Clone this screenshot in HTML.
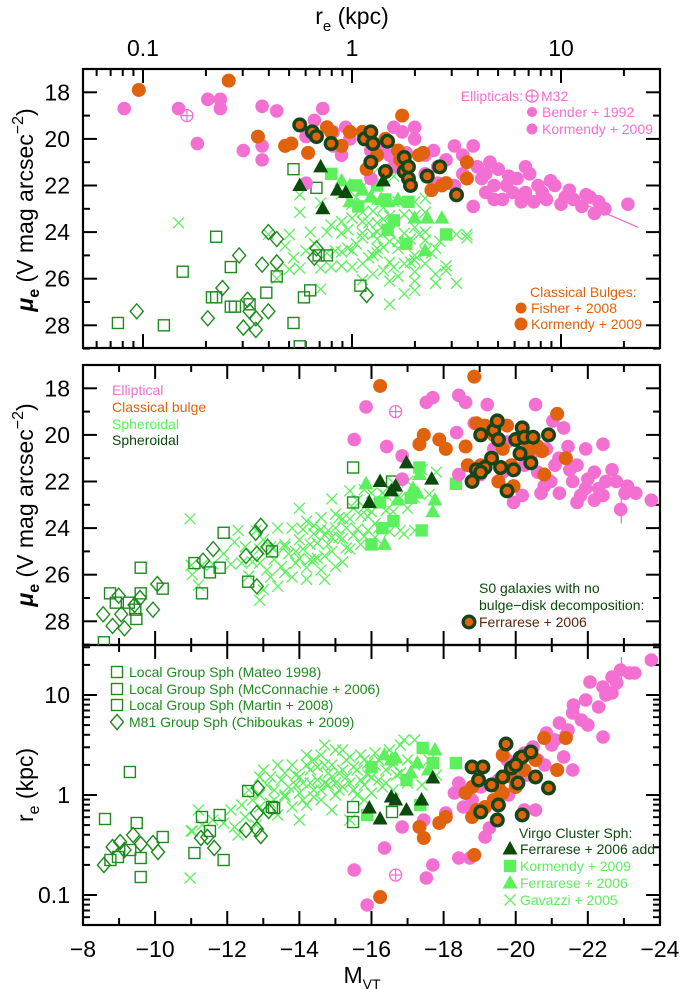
<!DOCTYPE html>
<html><head><meta charset="utf-8">
<style>
html,body{margin:0;padding:0;background:#fff;}
svg{display:block;}
.tl{font-family:"Liberation Sans",sans-serif;font-size:23px;fill:#000;}
.lg{font-family:"Liberation Sans Narrow","Liberation Sans",sans-serif;font-size:14px;}
</style></head>
<body>
<svg id="chart" width="686" height="989" viewBox="0 0 686 989" xmlns="http://www.w3.org/2000/svg">
<g id="axes"></g>
<g id="marks"></g>
<g id="legends"></g>
</svg>
<script>
// ---------- Gavazzi 2005 (shared by all panels): M, log re, mu_e ----------
const gavM = [-11.0,-11.3,-11.6,-11.9,-12.1,-12.2,-12.4,-12.5,-12.7,-12.8,-12.9,-13.0,-13.1,-13.2,-13.3,-13.4,-13.5,-13.6,-13.7,-13.8,-13.9,-14.0,-14.1,-14.2,-14.3,-14.4,-14.5,-14.6,-14.7,-14.8,-14.9,-15.0,-15.1,-15.2,-15.3,-15.4,-15.5,-15.6,-15.7,-15.8,-15.9,-16.0,-16.1,-16.2,-16.3,-16.4,-16.5,-16.6,-16.7,-16.8,-17.0,-17.2,-17.4,-17.6,-17.8,-12.3,-13.0,-13.6,-14.0,-14.4,-14.9,-15.2,-12.6,-14.2,-15.8,-13.4,-16.9,-11.2,-15.4,-14.7,-10.97,-12.9,-11.03,-17.2,
  -13.6,-13.9,-14.1,-14.3,-14.5,-14.6,-14.8,-14.9,-15.0,-15.1,-15.3,-15.5,-15.6,-15.7,-15.9,-16.0,-16.2,-16.4,-16.6,-16.8,-14.0,-14.2,-14.4,-14.7,-15.2,-15.4,-13.2,-13.8,-12.9,-13.3,-15.8,-16.1,-17.0,-14.6,-15.0];
const gavR = [-0.36,-0.30,-0.25,-0.28,-0.15,-0.32,-0.10,-0.22,-0.05,-0.30,0.00,-0.18,0.10,-0.08,0.05,-0.20,0.15,-0.02,0.08,-0.12,0.20,0.02,0.12,-0.10,0.25,0.05,0.15,-0.05,0.30,0.10,0.18,0.00,0.22,0.08,0.35,0.12,0.05,0.25,0.40,0.10,0.20,0.02,0.30,0.15,0.08,0.25,0.45,0.05,0.20,0.50,0.12,0.30,0.10,0.35,0.20,-0.40,0.25,0.22,-0.25,0.35,-0.15,0.45,0.05,0.40,0.35,0.30,0.55,-0.15,-0.25,0.50,-0.83,0.18,-0.36,0.55,
  0.00,0.10,-0.05,0.12,0.28,0.05,0.22,0.30,0.12,0.05,0.18,0.28,0.00,0.15,0.32,0.18,0.35,0.12,0.30,0.22,0.18,0.30,-0.02,0.12,0.25,0.38,0.18,0.30,-0.12,-0.05,-0.05,0.42,0.35,0.40,0.45];
const gavMu = [25.6,25.6,25.55,25.1,25.55,24.6,25.5,24.8,25.45,24.1,25.5,24.5,25.8,24.8,25.35,24.0,25.65,24.7,25.1,24.0,25.5,24.5,24.9,23.7,25.35,24.25,24.65,23.55,25.2,24.1,24.4,23.4,24.4,23.6,24.85,23.6,23.15,24.05,24.7,23.1,23.5,22.5,23.8,22.95,22.5,23.25,24.15,22.05,22.7,24.1,22.0,22.7,21.5,22.55,21.6,24.1,26.65,25.9,23.15,25.35,22.75,25.45,26.05,26.2,24.35,26.5,24.25,26.45,22.4,26.2,23.6,27.1,26.0,24.1,
  24.8,25.0,24.05,24.7,25.3,24.05,24.7,25.0,24.0,23.55,24.0,24.3,22.8,23.45,24.1,23.3,24.0,22.6,23.3,22.7,25.3,25.7,23.9,24.3,24.45,24.9,26.1,26.1,24.9,24.85,22.35,24.4,23.15,25.8,25.65];

// ---------- Panel 1: [log re, mu_e] ----------
const p1Ell = [[-1.09,18.7],[-0.83,18.7],[-0.74,20.2],[-0.69,18.3],[-0.63,18.3],[-0.63,18.7],[-0.52,20.5],[-0.43,18.6],[-0.43,20.3],[-0.43,20.9],[-0.36,18.8],[-0.14,18.7],[-0.18,19.2],[-0.22,19.9],[-0.09,19.7],[-0.09,20.3],[-0.05,20.7],[-0.03,19.5],[-0.01,20.0],[0.05,19.7],[0.09,20.5],[0.14,20.3],[0.18,20.7],[0.20,19.5],[0.24,19.7],[0.26,20.6],[0.30,20.0],[0.35,20.7],[0.39,20.5],[0.41,21.2],[0.45,20.9],[0.49,20.3],[0.53,20.7],[0.58,20.3],[0.60,21.2],[0.62,21.7],[0.64,22.3],[0.58,22.9],[0.68,22.0],[0.70,21.3],[0.74,22.0],[0.79,21.7],[0.83,22.3],[0.85,21.5],[0.89,22.0],[0.93,22.6],[0.97,22.0],[1.02,22.5],[1.04,22.2],[1.10,22.9],[1.14,22.5],[1.18,22.7],[1.21,23.0],[1.32,22.8],[0.41,21.9],[0.49,22.0],[0.20,21.2],[0.09,21.7],[-0.22,21.9],[0.53,21.5],[0.72,22.6],[0.87,22.7],[0.77,22.3],[0.64,21.5],[0.66,21.0],[0.83,21.2],[0.91,22.3],[1.06,22.6],[1.16,23.2],[0.30,19.5],[0.35,21.5],[0.68,22.6],[0.81,22.7],[0.75,21.6],[0.95,21.8],[1.00,22.8],[1.12,22.4]];
const p1M32 = [[-0.79,19.0]];
const p1Bul = [[-1.02,17.9],[-0.59,17.5],[-0.45,19.9],[-0.32,20.3],[-0.29,20.2],[-0.21,20.6],[-0.12,19.5],[-0.10,19.7],[-0.01,19.7],[0.05,19.7],[0.07,21.3],[0.12,20.7],[0.22,20.5],[0.23,20.9],[0.24,19.0],[0.32,20.7],[0.34,20.6],[0.38,22.2],[0.43,22.0],[0.45,21.9],[0.55,21.0],[0.55,21.7],[0.16,20.0],[-0.05,20.3]];
const p1S0 = [[-0.25,19.4],[-0.19,19.7],[-0.17,19.9],[-0.10,20.2],[0.06,20.0],[0.09,19.7],[0.10,20.2],[0.09,21.0],[0.17,20.1],[0.16,21.4],[0.25,20.8],[0.25,21.4],[0.27,21.2],[0.27,21.7],[0.28,22.0],[0.36,21.6],[0.42,21.2],[0.50,22.4]];
const p1DTri = [[-0.25,22.0],[-0.15,21.2],[-0.14,23.0],[-0.07,22.2],[-0.03,22.3],[0.15,21.8]];
const p1LTri = [[-0.05,21.8],[-0.01,22.0],[0.05,22.2],[0.09,22.5],[0.14,22.6],[0.17,22.7],[0.22,22.6],[0.30,23.4],[0.36,23.4],[0.43,23.4],[0.35,24.8],[-0.01,22.7]];
const p1LSq = [[-0.10,21.5],[0.02,22.0],[0.12,22.0],[0.16,22.6],[0.17,23.9],[0.20,23.5],[0.27,22.7],[0.45,24.1],[0.03,22.9],[0.26,24.5]];
const p1OSq = [[-1.12,27.9],[-0.90,28.0],[-0.81,25.7],[-0.65,24.2],[-0.67,26.8],[-0.65,26.8],[-0.58,25.5],[-0.58,27.2],[-0.56,27.2],[-0.49,27.1],[-0.41,26.6],[-0.36,25.9],[-0.28,27.9],[-0.25,28.9],[-0.23,26.8],[-0.20,26.5],[-0.17,22.1],[-0.12,25.0],[-0.16,25.0],[0.04,26.3],[-0.28,21.3]];
const p1Dia = [[-1.03,27.4],[-0.69,27.7],[-0.62,26.4],[-0.54,25.0],[-0.52,28.1],[-0.50,26.9],[-0.49,27.4],[-0.46,27.7],[-0.46,28.2],[-0.40,27.4],[-0.43,25.4],[-0.40,24.0],[-0.36,24.3],[-0.36,25.3],[-0.17,24.7],[-0.18,25.1],[0.07,26.7]];
const p1EllLine = [[1.06,22.6],[1.37,23.8]];

// ---------- Panel 2: [M_VT, mu_e] ----------
const p2Ell = [[-15.85,18.8],[-15.52,20.2],[-16.42,20.5],[-16.85,20.9],[-16.85,21.9],[-17.52,18.6],[-17.70,18.4],[-18.42,18.3],[-18.61,18.6],[-18.36,19.9],[-18.85,19.5],[-19.21,18.7],[-19.39,20.6],[-19.03,21.7],[-18.42,21.7],[-19.94,22.9],[-20.24,21.3],[-20.55,18.7],[-20.79,22.2],[-21.03,19.4],[-21.33,19.7],[-21.45,20.5],[-21.70,21.3],[-21.94,20.6],[-22.18,21.6],[-22.42,20.4],[-22.67,21.5],[-22.79,22.0],[-23.03,22.5],[-23.33,22.5],[-23.76,22.8],[-22.91,23.2],[-22.42,22.6],[-21.94,22.3],[-21.58,22.0],[-21.21,22.5],[-20.97,22.0],[-20.61,21.6],[-20.42,20.9],[-21.70,22.9],[-22.18,22.8],[-19.64,21.6],[-20.18,22.6],[-21.09,21.3],[-20.85,20.6],[-19.76,20.3],[-21.5,21.5],[-22.0,21.9],[-22.5,22.0],[-21.2,21.0],[-22.3,22.3],[-21.8,22.6],[-20.7,22.5],[-23.1,22.2]];
const p2M32 = [[-16.67,19.0]];
const p2Bul = [[-16.24,17.9],[-18.85,17.5],[-21.15,19.1],[-17.45,20.0],[-17.33,20.4],[-17.88,20.2],[-18.06,20.6],[-18.61,20.5],[-18.67,21.3],[-18.91,19.5],[-19.15,19.6],[-19.39,20.0],[-19.64,20.6],[-19.76,19.6],[-19.88,21.3],[-19.52,22.0],[-19.94,22.2],[-20.36,20.7],[-20.61,20.5],[-20.73,20.7],[-20.79,21.7],[-21.39,21.0],[-19.03,21.3],[-20.24,20.2]];
const p2S0 = [[-19.03,20.0],[-19.39,19.8],[-19.49,19.4],[-19.52,20.2],[-19.33,21.0],[-19.15,21.4],[-18.91,21.5],[-18.79,22.0],[-19.58,21.4],[-19.76,22.4],[-19.94,21.5],[-20.00,20.2],[-20.12,20.8],[-20.18,19.7],[-20.24,20.1],[-20.42,21.2],[-20.48,20.1],[-20.91,20.0],[-19.03,21.6]];
const p2DTri = [[-15.94,22.9],[-16.24,22.0],[-16.55,22.4],[-16.67,22.2],[-16.97,21.2],[-17.67,21.9]];
const p2LTri = [[-15.85,22.1],[-16.36,24.7],[-17.27,22.5],[-17.70,23.3],[-17.33,21.7],[-17.15,22.3],[-17.76,22.8],[-16.73,22.8]];
const p2LSq = [[-16.0,24.7],[-16.30,24.0],[-17.39,24.1],[-18.34,22.1],[-17.33,21.4],[-16.61,23.7],[-17.09,22.7],[-16.24,22.9]];
const p2OSq = [[-8.58,28.9],[-8.75,26.8],[-8.91,27.2],[-9.27,27.2],[-9.45,27.5],[-9.48,27.9],[-9.60,25.7],[-9.60,26.8],[-10.21,26.6],[-11.09,25.5],[-11.30,26.8],[-11.52,25.9],[-11.79,25.7],[-11.90,24.2],[-12.58,26.3],[-13.24,25.0],[-15.49,21.4],[-15.49,22.9],[-16.57,22.0]];
const p2Dia = [[-8.56,27.7],[-8.82,28.2],[-8.99,26.9],[-9.06,27.7],[-9.15,28.3],[-9.43,27.3],[-9.58,27.0],[-9.94,27.5],[-10.06,26.4],[-11.33,25.4],[-11.61,24.9],[-12.52,25.2],[-12.79,24.2],[-12.93,23.9],[-12.82,25.1],[-13.12,24.8],[-12.82,26.5]];
const p2EllLine = [[-22.93,22.7],[-22.93,23.8]];

// ---------- Panel 3: [M_VT, log re] ----------
const p3Ell = [[-23.76,1.35],[-22.91,1.25],[-23.15,1.22],[-22.67,1.18],[-22.06,1.13],[-22.42,1.08],[-22.67,1.02],[-21.94,0.95],[-22.30,0.88],[-21.58,0.82],[-21.82,0.75],[-21.21,0.72],[-21.45,0.65],[-20.85,0.62],[-21.09,0.55],[-20.48,0.48],[-22.42,0.58],[-21.33,0.38],[-20.24,0.42],[-20.61,0.35],[-19.76,0.35],[-21.58,0.25],[-20.12,0.25],[-19.52,0.15],[-19.03,0.08],[-18.42,0.12],[-18.30,0.02],[-18.55,-0.12],[-18.06,-0.18],[-20.24,-0.15],[-20.55,-0.15],[-18.79,-0.05],[-17.45,-0.25],[-16.85,-0.32],[-16.36,-0.53],[-18.42,-0.63],[-18.73,-0.63],[-17.70,-0.70],[-17.52,-0.83],[-15.52,-0.75],[-15.88,-1.10],[-19.27,-0.33],[-19.15,-0.42],[-21.6,0.9],[-22.0,0.7],[-21.0,0.5],[-20.8,0.3],[-22.5,1.0],[-20.3,0.2],[-19.8,0.0],[-21.4,0.6],[-22.8,1.12],[-23.3,1.22]];
const p3M32 = [[-16.67,-0.80]];
const p3Bul = [[-16.24,-1.02],[-20.79,0.57],[-21.39,0.57],[-21.15,0.25],[-19.64,0.40],[-19.88,0.18],[-20.00,0.08],[-19.52,0.08],[-19.64,0.02],[-19.39,-0.05],[-19.15,-0.12],[-18.91,-0.15],[-18.79,-0.22],[-18.61,0.02],[-18.79,0.08],[-18.06,-0.22],[-17.88,-0.28],[-17.33,-0.32],[-17.45,-0.43],[-18.85,-0.60],[-20.24,0.25],[-20.55,0.35]];
const p3S0 = [[-18.79,0.28],[-19.09,0.28],[-18.97,0.15],[-19.73,0.51],[-19.33,0.10],[-19.64,0.18],[-19.88,0.27],[-20.06,0.12],[-20.12,0.37],[-20.18,0.38],[-20.42,0.43],[-20.55,0.18],[-20.91,0.07],[-19.52,-0.10],[-19.03,-0.17],[-19.49,-0.25],[-20.18,-0.20],[-20.00,0.30]];
const p3DTri = [[-15.94,-0.13],[-16.24,-0.24],[-16.55,-0.02],[-16.67,-0.05],[-16.97,-0.15],[-17.39,-0.05],[-17.70,0.17]];
const p3LTri = [[-16.36,0.40],[-16.55,0.35],[-17.27,0.32],[-17.76,0.45],[-16.67,0.37],[-17.09,0.22],[-17.58,0.25]];
const p3LSq = [[-16.0,0.28],[-17.42,0.47],[-18.34,0.32],[-17.35,-0.10],[-15.88,-0.20],[-17.70,0.32],[-16.97,0.15]];
const p3OSq = [[-8.61,-0.24],[-9.30,0.23],[-9.49,-0.28],[-9.60,-0.63],[-9.60,-0.82],[-9.31,-0.55],[-8.97,-0.62],[-8.76,-0.65],[-10.21,-0.42],[-11.09,-0.58],[-11.30,-0.22],[-11.52,-0.36],[-11.79,-0.20],[-11.90,-0.65],[-12.58,0.04],[-13.24,-0.12],[-13.30,-0.13],[-15.49,-0.12],[-15.49,-0.27],[-16.57,-0.17]];
const p3Dia = [[-8.58,-0.70],[-8.82,-0.52],[-9.03,-0.47],[-9.15,-0.55],[-9.39,-0.40],[-9.60,-0.49],[-9.94,-0.48],[-10.08,-0.57],[-11.27,-0.43],[-11.45,-0.42],[-11.64,-0.53],[-12.52,-0.35],[-12.82,-0.18],[-12.82,-0.34],[-12.93,-0.41],[-12.85,0.07],[-13.15,-0.16]];
const p3EllLine = [[-22.93,1.15],[-22.93,1.38]];

// ---------- Tick labels ----------
const mTicks = [-8,-10,-12,-14,-16,-18,-20,-22,-24];
const muTicks = [18,20,22,24,26,28];
const reTopTicks = [0.1,1,10];
const reLeftTicks = [10,1,0.1];
const reLeftLabels = ["10","1","0.1"];

// ---------- geometry ----------
const NS = "http://www.w3.org/2000/svg";
const X0 = 83, X1 = 660;
const P1T = 69, P1B = 348, P2T = 365, P2B = 645, P3T = 645, P3B = 925;
const C = {pink:"#f46fd2", orange:"#e0620c", light:"#5cf05c", dark:"#0c4a0c", open:"#1f8a1f", s0ring:"#17451a"};
function xM(m){ return X0 + (-8 - m) * 36.06; }
function xR(lr){ return 352 + 209 * lr; }
function yMu(mu, top){ return top + (mu - 17) * 23.3; }
function yR(lr){ return 795 - 100 * lr; }

const axes = document.getElementById('axes');
const marks = document.getElementById('marks');
const legends = document.getElementById('legends');

function mk(parent, tag, attrs){
  const el = document.createElementNS(NS, tag);
  for (const k in attrs) el.setAttribute(k, attrs[k]);
  parent.appendChild(el);
  return el;
}
function line(parent, x1, y1, x2, y2, stroke, sw, name){
  const el = mk(parent, 'line', {x1:x1, y1:y1, x2:x2, y2:y2, stroke:stroke, 'stroke-width':sw});
  
  
  return el;
}
function text(parent, x, y, s, cls, anchor, fill, name){
  const el = mk(parent, 'text', {x:x, y:y, class:cls, 'text-anchor':anchor});
  if (fill) el.setAttribute('fill', fill);
  el.textContent = s;
  
  
  return el;
}

// ---------- markers ----------
function dot(g, x, y, color, r, name){
  const el = mk(g, 'circle', {cx:x, cy:y, r:r, fill:color});
  
  
}
function ring(g, x, y, name){
  const el = mk(g, 'circle', {cx:x, cy:y, r:5.8, fill:C.orange, stroke:C.s0ring, 'stroke-width':3.4});
  
  
}
function tri(g, x, y, color, name){
  const el = mk(g, 'polygon', {points:`${x},${y-8} ${x-7.5},${y+5.5} ${x+7.5},${y+5.5}`, fill:color});
  
  
}
function sq(g, x, y, color, filled, name){
  const el = mk(g, 'rect', {x:x-5.5, y:y-5.5, width:11, height:11, fill: filled ? color : 'none', stroke:color, 'stroke-width':1.4});
  
  
}
function dia(g, x, y, color, name){
  const el = mk(g, 'polygon', {points:`${x},${y-7.5} ${x+6.5},${y} ${x},${y+7.5} ${x-6.5},${y}`, fill:'none', stroke:color, 'stroke-width':1.4});
  
  
}
function cross(g, x, y, color, name){
  const el = mk(g, 'path', {d:`M${x-5.5},${y-5.5}L${x+5.5},${y+5.5}M${x-5.5},${y+5.5}L${x+5.5},${y-5.5}`, stroke:color, 'stroke-width':1.3, fill:'none'});
  
  
}
function m32(g, x, y, name){
  const el = mk(g, 'path', {d:`M${x-6},${y}L${x+6},${y}M${x},${y-6}L${x},${y+6}`, stroke:C.pink, 'stroke-width':1.2, fill:'none'});
  
  
  const c = mk(g, 'circle', {cx:x, cy:y, r:6, fill:'none', stroke:C.pink, 'stroke-width':1.3});
  
  
}

// ---------- panels ----------
function drawPanel(id, fx, fy, top, bot, D){
  const g = mk(marks, 'g', {'clip-path':`url(#clip-${id})`});
  
  
  const cp = mk(mk(marks, 'defs', {}), 'clipPath', {id:'clip-' + id});
  mk(cp, 'rect', {x:X0, y:top, width:X1 - X0, height:bot - top});
  D.gx.forEach((v, i) => cross(g, fx(v), fy(D.gy[i]), C.light, 'gavazzi-cross'));
  D.osq.forEach(p => sq(g, fx(p[0]), fy(p[1]), C.open, false, 'local-group-sph'));
  D.dia.forEach(p => dia(g, fx(p[0]), fy(p[1]), C.open, 'm81-group-sph'));
  D.lsq.forEach(p => sq(g, fx(p[0]), fy(p[1]), C.light, true, 'kormendy-sph'));
  D.ltri.forEach(p => tri(g, fx(p[0]), fy(p[1]), C.light, 'ferrarese-sph'));
  D.ell.forEach(p => dot(g, fx(p[0]), fy(p[1]), C.pink, 6.8, 'elliptical'));
  const el = mk(g, 'line', {x1:fx(D.eline[0][0]), y1:fy(D.eline[0][1]), x2:fx(D.eline[1][0]), y2:fy(D.eline[1][1]), stroke:C.pink, 'stroke-width':1.3});
  
  
  D.m32.forEach(p => m32(g, fx(p[0]), fy(p[1]), 'm32'));
  D.bul.forEach(p => dot(g, fx(p[0]), fy(p[1]), C.orange, 7, 'classical-bulge'));
  D.s0.forEach(p => ring(g, fx(p[0]), fy(p[1]), 's0-galaxy'));
  D.dtri.forEach(p => tri(g, fx(p[0]), fy(p[1]), C.dark, 'ferrarese-add-sph'));
}
drawPanel('panel-1', xR, mu => yMu(mu, P1T), P1T, P1B,
  {gx:gavR, gy:gavMu, osq:p1OSq, dia:p1Dia, lsq:p1LSq, ltri:p1LTri, ell:p1Ell, eline:p1EllLine, m32:p1M32, bul:p1Bul, s0:p1S0, dtri:p1DTri});
drawPanel('panel-2', xM, mu => yMu(mu, P2T), P2T, P2B,
  {gx:gavM, gy:gavMu, osq:p2OSq, dia:p2Dia, lsq:p2LSq, ltri:p2LTri, ell:p2Ell, eline:p2EllLine, m32:p2M32, bul:p2Bul, s0:p2S0, dtri:p2DTri});
drawPanel('panel-3', xM, yR, P3T, P3B,
  {gx:gavM, gy:gavR, osq:p3OSq, dia:p3Dia, lsq:p3LSq, ltri:p3LTri, ell:p3Ell, eline:p3EllLine, m32:p3M32, bul:p3Bul, s0:p3S0, dtri:p3DTri});

// ---------- frames ----------
[[P1T,P1B,'panel-1-frame'],[P2T,P2B,'panel-2-frame'],[P3T,P3B,'panel-3-frame']].forEach(f => {
  const r = mk(axes, 'rect', {x:X0, y:f[0], width:X1 - X0, height:f[1] - f[0], fill:'none', stroke:'#000', 'stroke-width':2.2});
  
  
});

// M ticks (panels 2,3)
for (let m = -8; m >= -24; m--) {
  const x = xM(m), len = (m % 2 === 0) ? 14 : 7;
  line(axes, x, P2T, x, P2T + len, '#000', 2, 'm-tick');
  line(axes, x, P2B, x, P2B - len, '#000', 2, 'm-tick');
  line(axes, x, P3T, x, P3T + len, '#000', 2, 'm-tick');
  line(axes, x, P3B, x, P3B - len, '#000', 2, 'm-tick');
}
mTicks.forEach(m => text(axes, xM(m), 957, '\u2212' + Math.abs(m), 'tl', 'middle', null, 'x-tick-label'));

// mu ticks (panels 1,2)
[P1T, P2T].forEach(top => {
  for (let mu = 17; mu <= 29; mu++) {
    const y = yMu(mu, top), len = (mu % 2 === 0) ? 14 : 7;
    line(axes, X0, y, X0 + len, y, '#000', 2, 'mu-tick');
    line(axes, X1, y, X1 - len, y, '#000', 2, 'mu-tick');
  }
  muTicks.forEach(mu => text(axes, 70, yMu(mu, top) + 8, String(mu), 'tl', 'end', null, 'y-tick-label'));
});

// log re ticks panel 1 (x) and panel 3 (y)
for (let d = -2; d <= 1; d++) {
  for (let k = 1; k <= 9; k++) {
    const lr = d + Math.log10(k), len = k === 1 ? 14 : 7;
    const x = xR(lr);
    if (x > X0 + 1 && x < X1 - 1) {
      line(axes, x, P1T, x, P1T + len, '#000', 2, 're-tick');
      line(axes, x, P1B, x, P1B - len, '#000', 2, 're-tick');
    }
    const y = yR(lr);
    if (y > P3T + 1 && y < P3B - 1) {
      line(axes, X0, y, X0 + len, y, '#000', 2, 're-tick');
      line(axes, X1, y, X1 - len, y, '#000', 2, 're-tick');
    }
  }
}
reTopTicks.forEach(v => text(axes, xR(Math.log10(v)), 56, String(v), 'tl', 'middle', null, 'top-x-tick-label'));
reLeftTicks.forEach((v, i) => text(axes, 70, yR(Math.log10(v)) + 8, reLeftLabels[i], 'tl', 'end', null, 'y-tick-label'));

// axis titles
(function(){
  const t = mk(axes, 'text', {x:352, y:24, 'text-anchor':'middle', class:'tl'});
  t.innerHTML = 'r<tspan font-size="15" dy="7">e</tspan><tspan dy="-7"> (kpc)</tspan>';
  
  
  const b = mk(axes, 'text', {x:362, y:983, 'text-anchor':'middle', class:'tl', 'font-size':'21'});
  b.innerHTML = 'M<tspan font-size="14" dy="6">VT</tspan>';
  
  
  [[210, 'y-axis-title-mu-1'], [505, 'y-axis-title-mu-2']].forEach(a => {
    const y = mk(axes, 'text', {x:0, y:0, 'text-anchor':'middle', class:'tl', 'font-size':'25', transform:`translate(33,${a[0]}) rotate(-90)`});
    y.innerHTML = '<tspan font-weight="bold" font-style="italic">\u03bc</tspan><tspan font-size="16" dy="6" font-weight="bold">e</tspan><tspan dy="-6"> (V mag arcsec</tspan><tspan font-size="16" dy="-10">\u22122</tspan><tspan dy="10">)</tspan>';
    
    
  });
  const r = mk(axes, 'text', {x:0, y:0, 'text-anchor':'middle', class:'tl', 'font-size':'25', transform:'translate(33,785) rotate(-90)'});
  r.innerHTML = 'r<tspan font-size="16" dy="6">e</tspan><tspan dy="-6">  (kpc)</tspan>';
  
  
})();

// ---------- legends ----------
function lgText(x, y, s, color, name){ return text(legends, x, y + 5, s, 'lg', 'start', color, name); }
// panel 1 ellipticals
text(legends, 523, 101, 'Ellipticals:', 'lg', 'end', C.pink, 'legend-ellipticals-title');
m32(legends, 532, 96, 'legend-m32-symbol');
lgText(541, 96, 'M32', C.pink, 'legend-m32');
dot(legends, 532, 112, C.pink, 5, 'legend-bender-symbol');
lgText(542, 112, 'Bender + 1992', C.pink, 'legend-bender');
dot(legends, 532, 129, C.pink, 5.5, 'legend-kormendy-ell-symbol');
lgText(542, 129, 'Kormendy + 2009', C.pink, 'legend-kormendy-ell');
// panel 1 bulges
lgText(530, 292, 'Classical Bulges:', C.orange, 'legend-bulges-title');
dot(legends, 521, 308, C.orange, 5.5, 'legend-fisher-symbol');
lgText(531, 308, 'Fisher + 2008', C.orange, 'legend-fisher');
dot(legends, 521, 324, C.orange, 6.5, 'legend-kormendy-bul-symbol');
lgText(531, 324, 'Kormendy + 2009', C.orange, 'legend-kormendy-bul');
// panel 2 types
lgText(112, 390, 'Elliptical', C.pink, 'legend-type-elliptical');
lgText(112, 407, 'Classical bulge', C.orange, 'legend-type-bulge');
lgText(112, 424, 'Spheroidal', C.light, 'legend-type-spheroidal-light');
lgText(112, 440, 'Spheroidal', C.dark, 'legend-type-spheroidal-dark');
// panel 2 S0
lgText(479, 588, 'S0 galaxies with  no', C.dark, 'legend-s0-title');
lgText(479, 605, 'bulge\u2212disk decomposition:', C.dark, 'legend-s0-title-2');
ring(legends, 469, 622, 'legend-s0-symbol');
lgText(479, 622, 'Ferrarese + 2006', '#5a2508', 'legend-s0-ferrarese');
// panel 3 local group
sq(legends, 117, 672, C.open, false, 'legend-mateo-symbol');
lgText(129, 672, 'Local Group Sph (Mateo 1998)', C.open, 'legend-mateo');
sq(legends, 117, 689, C.open, false, 'legend-mcconnachie-symbol');
lgText(129, 689, 'Local Group Sph (McConnachie + 2006)', C.open, 'legend-mcconnachie');
sq(legends, 117, 705, C.open, false, 'legend-martin-symbol');
lgText(129, 705, 'Local Group Sph (Martin + 2008)', C.open, 'legend-martin');
dia(legends, 117, 722, C.open, 'legend-chiboukas-symbol');
lgText(129, 722, 'M81  Group Sph (Chiboukas + 2009)', C.open, 'legend-chiboukas');
// panel 3 virgo
lgText(519, 833, 'Virgo Cluster Sph:', C.dark, 'legend-virgo-title');
tri(legends, 510, 849, C.dark, 'legend-ferrarese-add-symbol');
lgText(520, 849, 'Ferrarese + 2006 add', C.dark, 'legend-ferrarese-add');
sq(legends, 510, 866, C.light, true, 'legend-kormendy-sph-symbol');
lgText(520, 866, 'Kormendy + 2009', C.light, 'legend-kormendy-sph');
tri(legends, 510, 883, C.light, 'legend-ferrarese-sph-symbol');
lgText(520, 883, 'Ferrarese + 2006', C.light, 'legend-ferrarese-sph');
cross(legends, 510, 900, C.light, 'legend-gavazzi-symbol');
lgText(520, 900, 'Gavazzi + 2005', C.light, 'legend-gavazzi');
</script>
</body></html>
